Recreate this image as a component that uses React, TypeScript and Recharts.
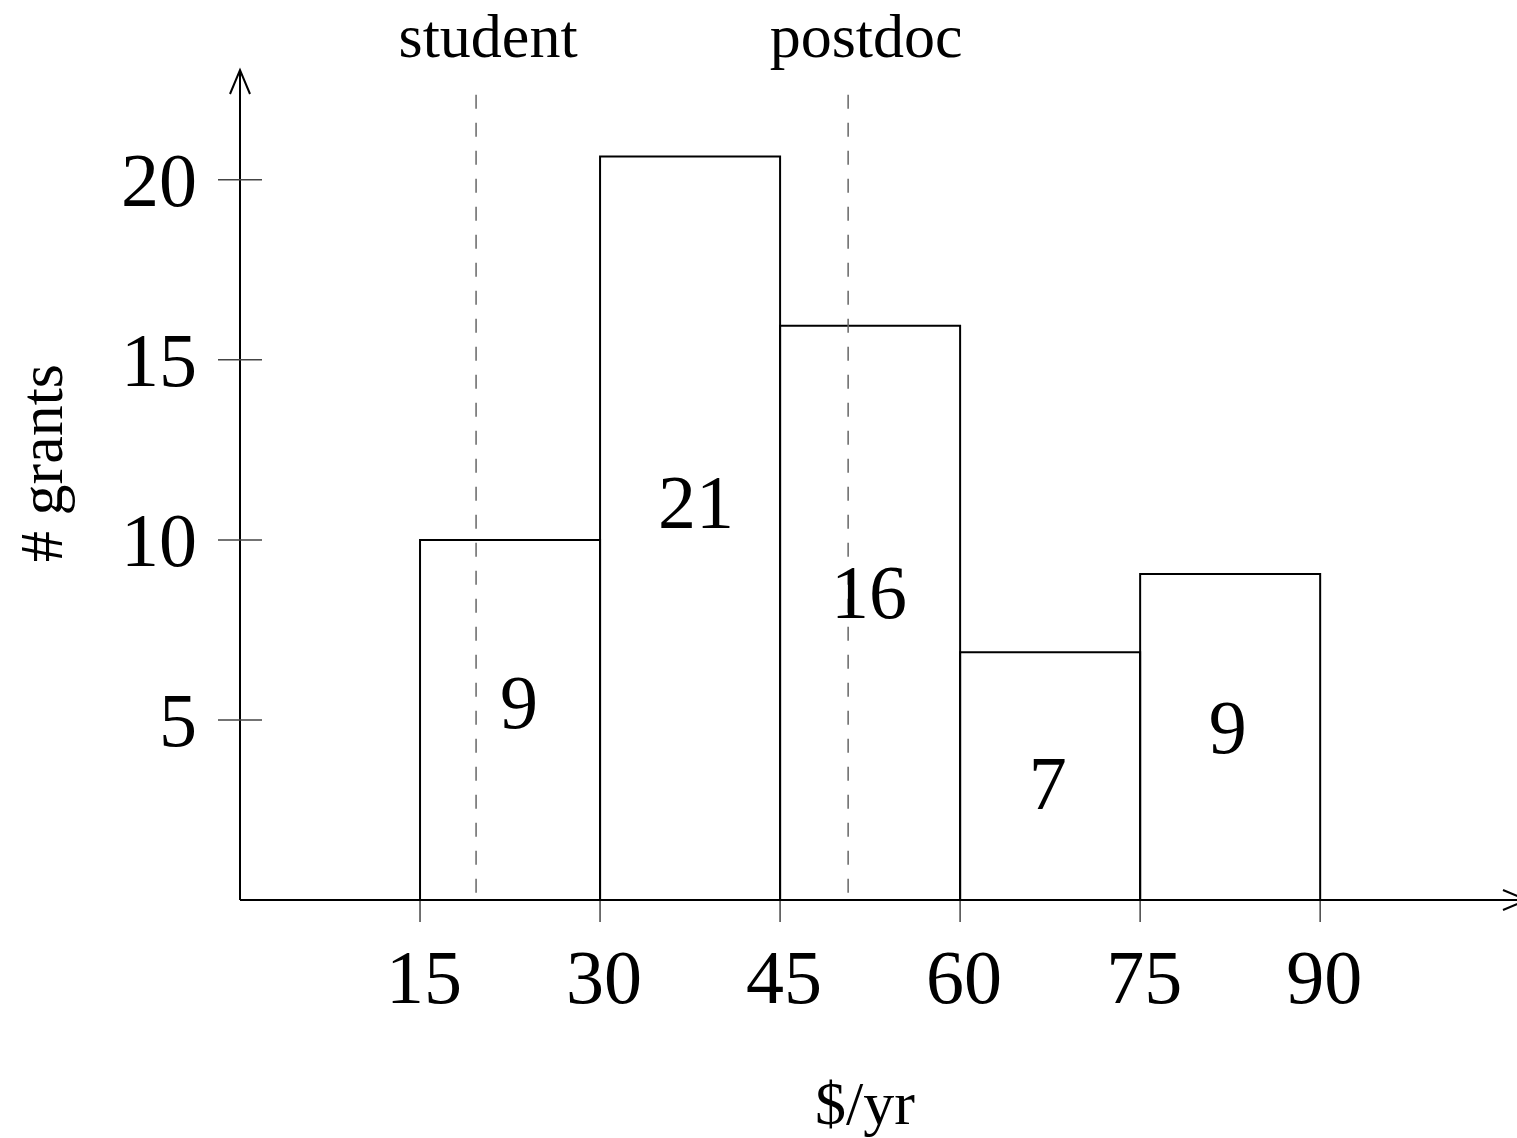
import {
  ComposedChart,
  ReferenceArea,
  ReferenceDot,
  ReferenceLine,
  Scatter,
  XAxis,
  YAxis,
} from "recharts";

// histogram bins ($k/yr) and their drawn heights
const binStarts = [15, 30, 45, 60, 75];
const binEnds = [30, 45, 60, 75, 90];
const binHeights = [10, 20.65, 15.95, 6.88, 9.05];

// count labels and where they sit
const binCounts = [9, 21, 16, 7, 9];
const countX = [23.25, 38, 52.4, 67.3, 82.3];
const countY = [5.5, 11.05, 8.55, 3.25, 4.8];

const xTicks = [15, 30, 45, 60, 75, 90];
const yTicks = [5, 10, 15, 20];

// dashed markers
const markerNames = ["student", "postdoc"];
const markerX = [19.67, 50.67];
const markerTop = 22.36;
const markerLabelX = [20.67, 52.17];
const markerLabelY = 23.4;

const X_MAX = 106.4;
const Y_MAX = 23.05;

const FONT = "'Liberation Serif', 'DejaVu Serif', serif";

const countData = binCounts.map((c, i) => ({ x: countX[i], y: countY[i], count: c }));

const XTick = (props: any) => {
  const { x, y, payload } = props;
  return (
    <g>
      <line x1={x} x2={x} y1={y + 1} y2={y + 22} stroke="#444" strokeWidth={1.5} />
      <text x={x + 4} y={y + 103} textAnchor="middle" fontSize={76} fontFamily={FONT} fill="#000">
        {payload.value}
      </text>
    </g>
  );
};

const YTick = (props: any) => {
  const { x, y, payload } = props;
  return (
    <g>
      <line x1={x - 22} x2={x + 22} y1={y} y2={y} stroke="#444" strokeWidth={1.5} />
      <text x={x - 43} y={y + 26} textAnchor="end" fontSize={76} fontFamily={FONT} fill="#000">
        {payload.value}
      </text>
    </g>
  );
};

const XLabel = (props: any) => {
  const vb = props.viewBox;
  return (
    <text x={vb.x + 625} y={vb.y + 224} textAnchor="middle" fontSize={62} fontFamily={FONT} fill="#000">
      $/yr
    </text>
  );
};

const YLabel = (props: any) => {
  const vb = props.viewBox;
  const cx = vb.x + 62;
  const cy = vb.y + 393;
  return (
    <text
      x={cx}
      y={cy}
      transform={`rotate(-90, ${cx}, ${cy})`}
      textAnchor="middle"
      fontSize={62}
      fontFamily={FONT}
      fill="#000"
    >
      # grants
    </text>
  );
};

const CountShape = (props: any) => {
  const { cx, cy, payload } = props;
  return (
    <text x={cx} y={cy + 26} textAnchor="middle" fontSize={76} fontFamily={FONT} fill="#000">
      {payload.count}
    </text>
  );
};

const UpArrow = (props: any) => {
  const { cx, cy } = props;
  return (
    <path
      d={`M${cx - 10},${cy + 24} L${cx},${cy} L${cx + 10},${cy + 24}`}
      fill="none"
      stroke="#000"
      strokeWidth={2}
    />
  );
};

const RightArrow = (props: any) => {
  const { cx, cy } = props;
  return (
    <path
      d={`M${cx - 14},${cy - 10} L${cx + 10},${cy} L${cx - 14},${cy + 10}`}
      fill="none"
      stroke="#000"
      strokeWidth={2}
    />
  );
};

export default function App() {
  return (
    <div style={{ position: "absolute", left: 0, top: 0, background: "#fff" }}>
      <ComposedChart width={1517} height={1138} margin={{ top: 70, right: 0, bottom: 0, left: 0 }}>
        <XAxis
          type="number"
          dataKey="x"
          domain={[0, X_MAX]}
          ticks={xTicks}
          height={238}
          tickLine={false}
          tickSize={0}
          tickMargin={0}
          axisLine={{ stroke: "#000", strokeWidth: 2 }}
          tick={<XTick />}
          label={<XLabel />}
          allowDataOverflow
        />
        <YAxis
          type="number"
          dataKey="y"
          domain={[0, Y_MAX]}
          ticks={yTicks}
          width={240}
          tickLine={false}
          tickSize={0}
          tickMargin={0}
          axisLine={{ stroke: "#000", strokeWidth: 2 }}
          tick={<YTick />}
          label={<YLabel />}
        />
        {binStarts.map((s, i) => (
          <ReferenceArea
            key={`bin-${i}`}
            x1={s}
            x2={binEnds[i]}
            y1={0}
            y2={binHeights[i]}
            fill="none"
            fillOpacity={0}
            stroke="#000"
            strokeWidth={2}
            strokeOpacity={1}
          />
        ))}
        {markerX.map((mx, i) => (
          <ReferenceLine
            key={`marker-${i}`}
            segment={[
              { x: mx, y: markerTop },
              { x: mx, y: 0 },
            ]}
            stroke="#666"
            strokeWidth={1.5}
            strokeDasharray="14 14"
          />
        ))}
        {markerNames.map((name, i) => (
          <ReferenceDot
            key={`mlabel-${i}`}
            x={markerLabelX[i]}
            y={markerLabelY}
            ifOverflow="visible"
            shape={(p: any) => (
              <text x={p.cx} y={p.cy} textAnchor="middle" fontSize={62} fontFamily={FONT} fill="#000">
                {name}
              </text>
            )}
          />
        ))}
        <ReferenceDot x={0} y={Y_MAX} ifOverflow="visible" shape={<UpArrow />} />
        <ReferenceDot x={X_MAX} y={0} ifOverflow="visible" shape={<RightArrow />} />
        <Scatter data={countData} shape={<CountShape />} isAnimationActive={false} />
      </ComposedChart>
    </div>
  );
}
